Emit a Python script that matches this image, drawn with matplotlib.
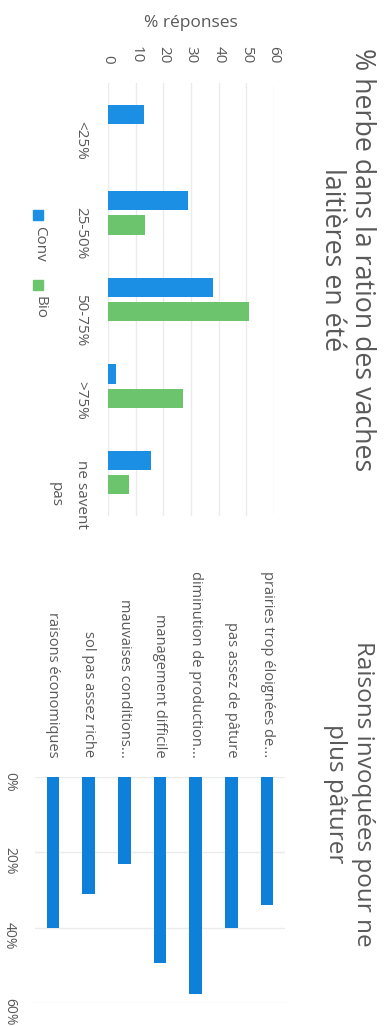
import matplotlib
matplotlib.use("Agg")
import matplotlib.pyplot as plt
from matplotlib.patches import Rectangle

plt.rcParams['font.family'] = ['Open Sans', 'DejaVu Sans']

# chart 1: % herbe dans la ration
herbe_cats = ['<25%', '25-50%', '50-75%', '>75%', 'ne savent\npas']
conv = [13, 29, 38, 3, 15.5]
bio = [0, 13.5, 51, 27, 7.5]

# chart 2: raisons pour ne plus paturer
raisons = ['prairies trop éloignées de...', 'pas assez de pâture',
           'diminution de production...', 'management difficile',
           'mauvaises conditions...', 'sol pas assez riche',
           'raisons économiques']
raisons_pct = [34, 40, 57.5, 49.5, 23, 31, 40]

blue = '#1a8fe3'
green = '#6cc46c'
blue2 = '#0e80da'
grey = '#595959'
grid = '#ebebeb'

W, H = 388, 1026
fig = plt.figure(figsize=(W / 100, H / 100), dpi=100)


def box(x0, y0, x1, y1):
    # pixel box (top-left origin) -> figure fraction
    return [x0 / W, 1 - y1 / H, (x1 - x0) / W, (y1 - y0) / H]


# ---- top chart (rotated 90 deg) ----
ax1 = fig.add_axes(box(108, 83, 274, 516))
pos = range(len(herbe_cats))
ax1.barh([p - 0.14 for p in pos], conv, height=0.22, color=blue)
ax1.barh([p + 0.14 for p in pos], bio, height=0.22, color=green)
ax1.set_xlim(0, 60)
ax1.set_ylim(len(herbe_cats) - 0.5, -0.5)
ax1.set_xticks(range(0, 61, 10))
ax1.xaxis.tick_top()
ax1.tick_params(axis='x', length=0, pad=14, labelsize=11, labelcolor=grey,
                labelrotation=270)
ax1.set_yticks(list(pos))
ax1.set_yticklabels(herbe_cats, rotation=270, multialignment='center',
                    linespacing=2.0)
ax1.tick_params(axis='y', length=0, pad=14, labelsize=11, labelcolor=grey)
ax1.xaxis.set_label_position('top')
ax1.set_xlabel('% réponses', fontsize=12.5, color=grey, labelpad=14)
ax1.grid(axis='x', color=grid, lw=1)
ax1.set_axisbelow(True)
for s in ax1.spines.values():
    s.set_visible(False)

fig.text(347 / W, 1 - 260 / H, '% herbe dans la ration des vaches\nlaitières en été',
         rotation=270, ha='center', va='center', multialignment='center',
         fontsize=19.3, color=grey, linespacing=1.1)

# legend drawn by hand (rotated)
for y0, lab, col in [(210, 'Conv', blue), (280, 'Bio', green)]:
    fig.patches.append(Rectangle((33 / W, 1 - (y0 + 10) / H), 10 / W, 10 / H,
                                 transform=fig.transFigure, color=col))
    fig.text(40 / W, 1 - (y0 + 16) / H, lab, rotation=270, ha='center', va='top',
             fontsize=11, color=grey)

# ---- bottom chart (rotated 90 deg) ----
ax2 = fig.add_axes(box(35, 777, 285, 1003))
idx = range(len(raisons))
ax2.bar(list(idx), raisons_pct, width=0.35, color=blue2)
ax2.set_xlim(len(raisons) - 0.5, -0.5)
ax2.set_ylim(60, 0)
ax2.set_yticks([0, 20, 40, 60])
ax2.set_yticklabels(['0%', '20%', '40%', '60%'], rotation=270)
ax2.tick_params(axis='y', length=0, pad=13, labelsize=10, labelcolor=grey)
ax2.xaxis.tick_top()
ax2.set_xticks(list(idx))
ax2.set_xticklabels(raisons, rotation=270)
ax2.tick_params(axis='x', length=0, pad=14, labelsize=10.5, labelcolor=grey)
ax2.grid(axis='y', color=grid, lw=1)
ax2.set_axisbelow(True)
for s in ax2.spines.values():
    s.set_visible(False)

fig.text(349 / W, 1 - 794 / H, 'Raisons invoquées pour ne\nplus pâturer',
         rotation=270, ha='center', va='center', multialignment='center',
         fontsize=17.5, color=grey, linespacing=1.2)

fig.savefig('out.png', dpi=100)
